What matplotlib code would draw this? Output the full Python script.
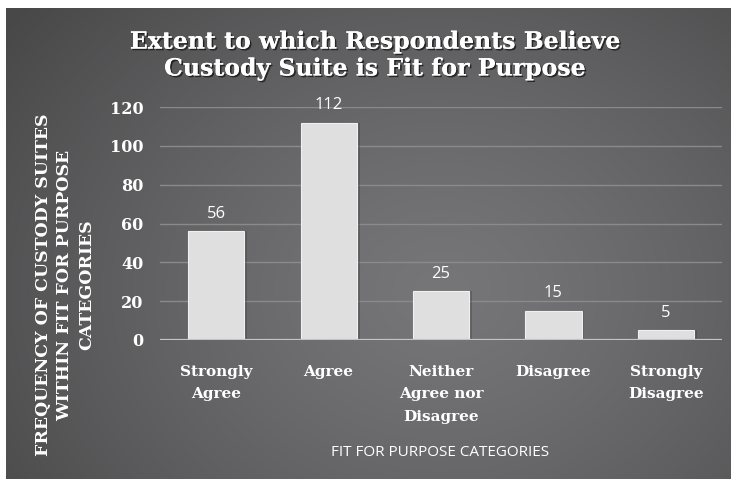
import numpy as np
import matplotlib
matplotlib.use("Agg")
import matplotlib.pyplot as plt
import matplotlib.patheffects as pe

categories = ["Strongly\nAgree", "Agree", "Neither\nAgree nor\nDisagree", "Disagree", "Strongly\nDisagree"]
values = [56, 112, 25, 15, 5]
yticks = [0, 20, 40, 60, 80, 100, 120]
title = "Extent to which Respondents Believe\nCustody Suite is Fit for Purpose"
ylabel = "FREQUENCY OF CUSTODY SUITES\nWITHIN FIT FOR PURPOSE\nCATEGORIES"
xlabel = "FIT FOR PURPOSE CATEGORIES"
caption = "Figure 6: Extent to which respondents believe custody suite is fit for purpose"

W, H = 731, 479
fig = plt.figure(figsize=(W / 100, H / 100), dpi=100, facecolor="white")

def fx(px):
    return px / W

def fy(py):
    return 1 - py / H

# cut-off caption at top (only descenders visible above the panel)
fig.text(fx(366), fy(-4.5), caption, ha="center", va="baseline", fontsize=13,
         family="Liberation Serif", style="italic", color="black", zorder=-5)

# background panel with radial gradient
bg = fig.add_axes([fx(6), 0, 1 - fx(6), fy(8)], zorder=-1)
ny, nx = 300, 450
yy, xx = np.mgrid[0:ny, 0:nx]
cx, cy = nx * 0.60, ny * 0.60
r = np.sqrt(((xx - cx) / (nx * 0.75)) ** 2 + ((yy - cy) / (ny * 0.95)) ** 2)
r = np.clip(r, 0, 1)
c_center = np.array([0x76, 0x76, 0x78]) / 255
c_edge = np.array([0x48, 0x48, 0x49]) / 255
img = c_center[None, None, :] + (c_edge - c_center)[None, None, :] * (r ** 1.3)[..., None]
bg.imshow(img, aspect="auto", extent=[0, 1, 0, 1], origin="upper", interpolation="bilinear")
bg.set_axis_off()

# main plot axes
ax = fig.add_axes([fx(160), fy(340), fx(722) - fx(160), fy(107) - fy(340)], zorder=0)
ax.patch.set_alpha(0)
x = np.arange(len(categories))
ax.set_xlim(-0.5, len(categories) - 0.5)
ax.set_ylim(0, 120)

for yv in yticks[1:]:
    ax.axhline(yv, color="#8a8a8c", lw=1.0, zorder=1)
ax.axhline(0, color="#c4c4c6", lw=1.6, zorder=4)

# shadow then bars
ax.bar(x + 0.025, values, width=0.5, color="#3a3a3a", alpha=0.35, zorder=2)
bars = ax.bar(x, values, width=0.5, color="#dfdfe0", edgecolor="#f0f0f1", linewidth=0.8, zorder=3)

for xi, v in zip(x, values):
    ax.annotate(str(v), (xi, v), xytext=(0, 7), textcoords="offset points",
                ha="center", va="bottom", color="white", fontsize=12, family="Open Sans")

ax.set_yticks(yticks)
ax.set_yticklabels([str(t) for t in yticks], family="DejaVu Serif", fontweight="bold",
                   fontsize=11.5, color="white")
ax.set_xticks(x)
ax.set_xticklabels(categories, family="DejaVu Serif", fontweight="bold", fontsize=11,
                   color="white", linespacing=1.76)
ax.tick_params(axis="y", length=0, pad=12)
ax.tick_params(axis="x", length=0, pad=18)
for s in ax.spines.values():
    s.set_visible(False)

shadow = [pe.withSimplePatchShadow(offset=(1.2, -1.2), shadow_rgbFace="black", alpha=0.6), pe.Normal()]
fig.text(fx(375), fy(55), title, ha="center", va="center", fontsize=17, family="DejaVu Serif",
         fontweight="bold", color="white", linespacing=1.15, path_effects=shadow)

fig.text(fx(65), fy(285), ylabel, ha="center", va="center", rotation=90, fontsize=12.5,
         family="DejaVu Serif", fontweight="bold", color="white", linespacing=1.35)

fig.text(fx(440), fy(453), xlabel, ha="center", va="center", fontsize=11, family="Open Sans",
         color="white")

fig.savefig("out.png", dpi=100, facecolor=fig.get_facecolor())
